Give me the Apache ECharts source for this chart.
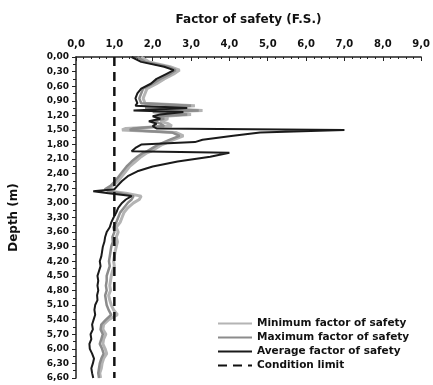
<!DOCTYPE html>
<html>
<head>
<meta charset="utf-8">
<script src="https://cdn.jsdelivr.net/npm/echarts@6/dist/echarts.min.js"></script>
<style>
  html, body { margin: 0; padding: 0; background: #fff; }
  #chart-container { width: 433px; height: 385px; }
</style>
</head>
<body>
<div id="chart-container"></div>
<script>
const depths = [0.00, 0.10, 0.20, 0.27, 0.35, 0.45, 0.55, 0.65, 0.75, 0.85, 0.95, 1.00, 1.05, 1.10, 1.13, 1.18, 1.22, 1.27, 1.32, 1.37,
  1.42, 1.47, 1.50, 1.55, 1.62, 1.70, 1.75, 1.80, 1.87, 1.94, 1.97, 2.05, 2.15, 2.25, 2.35, 2.45, 2.55, 2.65, 2.72, 2.76,
  2.80, 2.86, 2.93, 3.00, 3.10, 3.20, 3.30, 3.40, 3.50, 3.60, 3.70, 3.80, 3.90, 4.00, 4.10, 4.20, 4.30, 4.40, 4.50, 4.60,
  4.70, 4.80, 4.90, 5.00, 5.10, 5.20, 5.30, 5.40, 5.50, 5.60, 5.70, 5.80, 5.90, 6.00, 6.10, 6.20, 6.30, 6.40, 6.50, 6.60];

const minFS = [1.7, 1.9, 2.45, 2.7, 2.55, 2.3, 2.1, 1.85, 1.8, 1.75, 1.8, 3.1, 2.0, 3.3, 2.2, 3.0, 2.3, 2.4, 2.2, 2.4,
  2.5, 1.3, 1.2, 2.6, 2.8, 2.55, 2.4, 2.25, 2.1, 1.95, 1.85, 1.7, 1.55, 1.4, 1.3, 1.2, 1.1, 0.95, 0.8, 0.9,
  1.3, 1.7, 1.65, 1.5, 1.35, 1.25, 1.2, 1.15, 1.05, 1.1, 1.05, 1.08, 1.05, 1.02, 1.0, 0.98, 1.0, 0.95, 0.92, 0.9,
  0.88, 0.9, 0.85, 0.88, 0.92, 0.98, 1.08, 0.85, 0.72, 0.7, 0.78, 0.72, 0.7, 0.76, 0.8, 0.72, 0.68, 0.66, 0.62, 0.64];

const maxFS = [1.6, 1.8, 2.4, 2.6, 2.45, 2.2, 2.0, 1.75, 1.7, 1.65, 1.7, 3.0, 1.8, 3.2, 2.0, 2.9, 2.1, 2.3, 2.0, 2.2,
  2.3, 1.5, 1.4, 2.5, 2.7, 2.45, 2.3, 2.15, 2.0, 1.85, 1.75, 1.6, 1.45, 1.32, 1.22, 1.12, 1.02, 0.9, 0.75, 0.85,
  1.15, 1.5, 1.45, 1.35, 1.25, 1.15, 1.1, 1.05, 0.98, 1.0, 0.95, 0.96, 0.92, 0.9, 0.88, 0.86, 0.88, 0.84, 0.8, 0.8,
  0.78, 0.8, 0.76, 0.78, 0.8, 0.85, 0.92, 0.78, 0.66, 0.64, 0.7, 0.66, 0.62, 0.68, 0.72, 0.66, 0.62, 0.6, 0.58, 0.6];

const avgFS = [1.45, 1.7, 2.3, 2.55, 2.35, 2.1, 1.95, 1.7, 1.6, 1.55, 1.6, 1.55, 2.9, 1.5, 2.8, 2.2, 2.0, 2.2, 1.9, 2.1,
  2.0, 2.1, 7.0, 4.8, 4.1, 3.3, 3.1, 1.7, 1.55, 1.45, 4.0, 3.5, 2.65, 2.0, 1.6, 1.35, 1.2, 1.08, 1.0, 0.45,
  0.85, 1.45, 1.3, 1.2, 1.1, 1.05, 0.98, 0.92, 0.88, 0.8, 0.76, 0.74, 0.7, 0.68, 0.66, 0.62, 0.64, 0.6, 0.56, 0.58,
  0.56, 0.58, 0.55, 0.56, 0.5, 0.48, 0.5, 0.46, 0.42, 0.44, 0.38, 0.4, 0.35, 0.36, 0.42, 0.47, 0.44, 0.4, 0.42, 0.45];

const conditionLimit = 1.0;

const pairs = (vals) => vals.map((v, i) => [v, depths[i]]);
const comma = (v, d) => v.toFixed(d).replace(".", ",");

const font = "DejaVu Sans";

let option = {
  animation: false,
  grid: { left: 72, right: 8, top: 57, bottom: 7 },
  legend: {
    orient: "vertical",
    left: 212,
    top: 313,
    height: 70,
    itemWidth: 34,
    itemHeight: 10,
    itemGap: 3,
    itemStyle: { opacity: 0 },
    textStyle: { fontFamily: font, fontWeight: "bold", fontSize: 10.5, color: "#111" },
    data: ["Minimum factor of safety", "Maximum factor of safety", "Average factor of safety", "Condition limit"],
  },
  xAxis: {
    type: "value",
    position: "top",
    min: 0,
    max: 9,
    interval: 1,
    name: "Factor of safety (F.S.)",
    nameLocation: "middle",
    nameGap: 31,
    nameTextStyle: { fontFamily: font, fontWeight: "bold", fontSize: 12, color: "#111" },
    axisLine: { lineStyle: { color: "#222", width: 1.5 } },
    axisTick: { inside: true, length: 4, lineStyle: { color: "#222" } },
    minorTick: { show: true, splitNumber: 5, length: 2, lineStyle: { color: "#222" } },
    splitLine: { show: false },
    axisLabel: {
      fontFamily: font, fontWeight: "bold", fontSize: 10, color: "#111", margin: 8,
      formatter: (v) => comma(v, 1),
    },
  },
  yAxis: {
    type: "value",
    inverse: true,
    min: 0,
    max: 6.6,
    interval: 0.3,
    name: "Depth (m)",
    nameLocation: "middle",
    nameGap: 56,
    nameTextStyle: { fontFamily: font, fontWeight: "bold", fontSize: 12, color: "#111" },
    axisLine: { lineStyle: { color: "#222", width: 1.5 } },
    axisTick: { length: 4, lineStyle: { color: "#222" } },
    minorTick: { show: true, splitNumber: 2, length: 3, lineStyle: { color: "#222" } },
    splitLine: { show: false },
    axisLabel: {
      fontFamily: font, fontWeight: "bold", fontSize: 9, color: "#111", margin: 7,
      formatter: (v) => comma(v, 2),
    },
  },
  series: [
    {
      name: "Minimum factor of safety",
      type: "line",
      data: pairs(minFS),
      symbol: "none",
      color: "#b4b4b4",
      lineStyle: { color: "#b4b4b4", width: 3 },
      z: 2,
    },
    {
      name: "Maximum factor of safety",
      type: "line",
      data: pairs(maxFS),
      symbol: "none",
      color: "#8c8c8c",
      lineStyle: { color: "#8c8c8c", width: 2.5 },
      z: 3,
    },
    {
      name: "Average factor of safety",
      type: "line",
      data: pairs(avgFS),
      symbol: "none",
      color: "#1a1a1a",
      lineStyle: { color: "#1a1a1a", width: 2 },
      z: 4,
    },
    {
      name: "Condition limit",
      type: "line",
      data: [[conditionLimit, 0], [conditionLimit, 6.6]],
      symbol: "none",
      color: "#111",
      lineStyle: { color: "#111", width: 2.5, type: [9, 6] },
      z: 5,
    },
  ],
};

const paintChart = () => {
  let dom = document.getElementById("chart-container");
  let myChart = echarts.init(dom, null, { renderer: "canvas" });
  myChart.setOption(option);
};
paintChart();
</script>
</body>
</html>
